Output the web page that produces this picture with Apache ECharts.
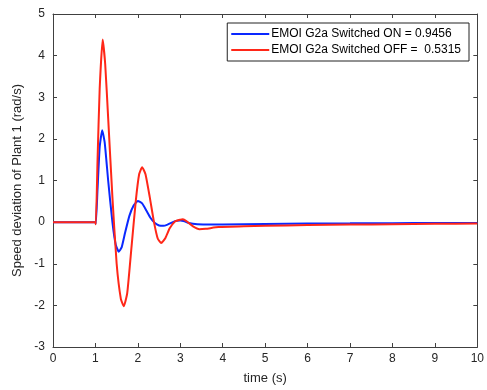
<!DOCTYPE html>
<html><head><meta charset="utf-8">
<script src="https://cdn.jsdelivr.net/npm/echarts@6/dist/echarts.min.js"></script>
<style>html,body{margin:0;padding:0;background:#fff}#c{width:487px;height:390px}</style>
</head><body><div id="c"></div>
<script>
var seriesNames = ['EMOI G2a Switched ON = 0.9456', 'EMOI G2a Switched OFF =  0.5315'];
var xTicks = [0,1,2,3,4,5,6,7,8,9,10];
var yTicks = [-3,-2,-1,0,1,2,3,4,5];
var timeOn = [0,1.0,1.01,1.05,1.1,1.16,1.22,1.3,1.4,1.48,1.55,1.62,1.7,1.8,1.9,2.0,2.1,2.2,2.3,2.4,2.5,2.6,2.7,2.8,2.9,3.0,3.1,3.2,3.4,3.7,4,5,6,7,8,9,10];
var valuesOn = [0,0,-0.04,0.8,1.8,2.21,1.9,1.0,0.0,-0.55,-0.71,-0.6,-0.25,0.15,0.4,0.51,0.45,0.28,0.1,-0.02,-0.08,-0.09,-0.06,-0.01,0.03,0.04,0.02,-0.02,-0.05,-0.06,-0.06,-0.045,-0.035,-0.03,-0.025,-0.02,-0.02];
var timeOff = [0,1.0,1.01,1.05,1.1,1.17,1.23,1.3,1.4,1.5,1.6,1.67,1.75,1.85,1.95,2.03,2.1,2.18,2.28,2.38,2.47,2.55,2.65,2.75,2.88,3.0,3.06,3.15,3.3,3.45,3.6,3.9,4.5,5,6,7,8,9,10];
var valuesOff = [0,0,-0.05,1.5,3.2,4.39,3.8,2.5,0.6,-1.0,-1.85,-2.02,-1.7,-0.6,0.5,1.15,1.32,1.15,0.6,0.0,-0.4,-0.5,-0.38,-0.15,0.02,0.06,0.07,0.02,-0.1,-0.17,-0.16,-0.12,-0.1,-0.09,-0.07,-0.06,-0.05,-0.04,-0.035];

function pairs(t, v){ return t.map(function(x,i){ return [x, v[i]]; }); }
var axisCol = '#404040';
var txtCol = '#262626';
var font = 'Liberation Sans, Arial, sans-serif';
var chart = echarts.init(document.getElementById('c'));
chart.setOption({
  animation: false,
  textStyle: {fontFamily: font},
  grid: {left: 53, right: 7, top: 14, bottom: 41},
  legend: {
    data: seriesNames, orient: 'vertical', right: 18, top: 23,
    padding: [5, 8, 5, 4], itemGap: 4, itemWidth: 38, itemHeight: 2,
    icon: 'rect', borderColor: '#222', borderWidth: 1, borderRadius: 0,
    backgroundColor: '#fff',
    textStyle: {color: '#000', fontSize: 12, fontFamily: font, padding: [0,0,0,-3]}
  },
  xAxis: [{
    type: 'value', min: 0, max: 10, interval: 1,
    name: 'time (s)', nameLocation: 'middle', nameGap: 25,
    nameTextStyle: {color: txtCol, fontSize: 13, fontFamily: font},
    axisLine: {onZero: false, lineStyle: {color: axisCol, width: 1}},
    axisTick: {inside: true, length: 4, lineStyle: {color: axisCol}},
    axisLabel: {color: txtCol, fontSize: 12, margin: 6, fontFamily: font},
    splitLine: {show: false}
  }, {
    type: 'value', min: 0, max: 10, interval: 1, position: 'top',
    axisLine: {show: true, onZero: false, lineStyle: {color: axisCol, width: 1}},
    axisTick: {inside: true, length: 4, lineStyle: {color: axisCol}},
    axisLabel: {show: false}, splitLine: {show: false}
  }],
  yAxis: [{
    type: 'value', min: -3, max: 5, interval: 1,
    name: 'Speed deviation of Plant 1 (rad/s)', nameLocation: 'middle', nameGap: 23,
    nameTextStyle: {color: txtCol, fontSize: 13, fontFamily: font},
    axisLine: {show: true, onZero: false, lineStyle: {color: axisCol, width: 1}},
    axisTick: {show: true, inside: true, length: 4, lineStyle: {color: axisCol}},
    axisLabel: {color: txtCol, fontSize: 12, margin: 8, fontFamily: font},
    splitLine: {show: false}
  }, {
    type: 'value', min: -3, max: 5, interval: 1, position: 'right',
    axisLine: {show: true, onZero: false, lineStyle: {color: axisCol, width: 1}},
    axisTick: {show: true, inside: true, length: 4, lineStyle: {color: axisCol}},
    axisLabel: {show: false}, splitLine: {show: false}
  }],
  series: [{
    name: seriesNames[0], type: 'line', data: pairs(timeOn, valuesOn),
    showSymbol: false, smooth: 0.15, color: '#0a28ff',
    lineStyle: {width: 2, color: '#0a28ff'}
  }, {
    name: seriesNames[1], type: 'line', data: pairs(timeOff, valuesOff),
    showSymbol: false, smooth: 0.15, color: '#ff2718',
    lineStyle: {width: 2, color: '#ff2718'}
  }]
});
</script></body></html>
